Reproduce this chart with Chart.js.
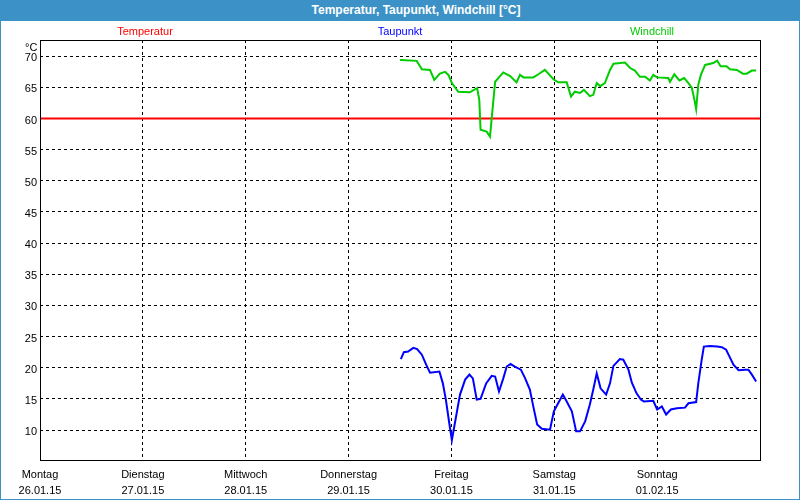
<!DOCTYPE html>
<html>
<head>
<meta charset="utf-8">
<script src="https://cdn.jsdelivr.net/npm/chart.js@4"></script>
<style>
  html, body { margin: 0; padding: 0; background: #fff; }
  #wrap { position: relative; width: 800px; height: 500px; overflow: hidden; background: #fff; font-family: 'Liberation Sans', Arial, sans-serif; }
  #frame { position: absolute; left: 0; top: 0; width: 798px; height: 499px; border: 1px solid #3c92c6; border-top: none; box-sizing: content-box; pointer-events: none; }
  #title { position: absolute; left: 0; top: 0; width: 800px; height: 21px; background: #3c92c6; }
  #title span { position: absolute; left: 416px; top: 0; transform: translateX(-50%); color: #fff; font-weight: bold; font-size: 12px; line-height: 21px; white-space: nowrap; }
  .leg { position: absolute; top: 24px; font-size: 11px; line-height: 14px; transform: translateX(-50%); white-space: nowrap; }
  #unit { position: absolute; left: 25px; top: 40px; font-size: 11px; line-height: 14px; color: #000; }
  canvas { position: absolute; left: 0; top: 0; }
</style>
</head>
<body>
<div id="wrap">
  <canvas id="c" width="800" height="500"></canvas>
  <div id="title"><span>Temperatur, Taupunkt, Windchill [°C]</span></div>
  <div class="leg" style="left:145px;color:#ff0000">Temperatur</div>
  <div class="leg" style="left:400px;color:#0000ff">Taupunkt</div>
  <div class="leg" style="left:652px;color:#00cc00">Windchill</div>
  <div id="unit">°C</div>
  <div id="frame"></div>
</div>
<script>
// Day labels (tick positions in hours from Monday 26.01.15 00:00)
const dayNames = ['Montag', 'Dienstag', 'Mittwoch', 'Donnerstag', 'Freitag', 'Samstag', 'Sonntag'];
const dayDates = ['26.01.15', '27.01.15', '28.01.15', '29.01.15', '30.01.15', '31.01.15', '01.02.15'];
const dayHours = [0, 24, 48, 72, 96, 120, 144];
const yTicks = [10, 15, 20, 25, 30, 35, 40, 45, 50, 55, 60, 65, 70];

// Temperatur (constant line)
const tempHours = [0, 168];
const tempValues = [60, 60];

// Taupunkt
const dewHours = [84.2, 84.9, 85.9, 87.1, 88.0, 89.1, 90.1, 91.0, 93.2, 94.0, 94.7, 95.5, 96.1, 96.8, 98.0, 99.2, 100.2, 101.0, 101.9, 102.8, 104.1, 105.4, 106.2, 107.1, 108.1, 108.9, 109.8, 110.8, 112.2, 113.2, 114.3, 115.1, 116.0, 117.1, 119.0, 119.9, 120.9, 122.0, 122.9, 124.1, 125.1, 126.0, 127.2, 128.3, 129.1, 129.9, 130.8, 132.1, 133.0, 133.8, 135.3, 136.1, 137.3, 138.1, 139.2, 140.2, 140.9, 143.1, 144.0, 145.1, 146.1, 147.2, 148.6, 150.5, 151.3, 153.1, 153.6, 154.4, 154.9, 156.3, 158.0, 159.1, 160.1, 160.8, 161.8, 163.0, 164.5, 165.3, 166.1, 167.1];
const dewValues = [21.4, 22.5, 22.6, 23.2, 23.0, 22.1, 20.5, 19.2, 19.4, 17.5, 14.9, 11.1, 8.4, 11.1, 15.7, 18.1, 18.9, 18.3, 14.9, 15.0, 17.5, 18.7, 18.6, 16.2, 18.3, 20.2, 20.6, 20.2, 19.7, 18.3, 16.5, 13.8, 10.9, 10.2, 10.05, 13.0, 14.3, 15.7, 14.6, 13.0, 9.8, 9.8, 11.4, 14.1, 16.5, 19.1, 16.7, 15.7, 17.5, 20.3, 21.4, 21.3, 19.7, 17.6, 15.9, 14.9, 14.6, 14.7, 13.3, 13.8, 12.5, 13.3, 13.5, 13.6, 14.3, 14.5, 17.5, 21.3, 23.4, 23.5, 23.4, 23.3, 22.9, 21.9, 20.5, 19.6, 19.7, 19.7, 18.9, 17.8];

// Windchill
const chillHours = [84.0, 87.9, 89.1, 91.0, 92.0, 93.3, 94.5, 95.3, 96.1, 97.6, 100.3, 102.0, 102.5, 102.8, 104.2, 105.0, 105.4, 106.2, 108.1, 109.7, 111.2, 112.0, 112.8, 115.1, 116.3, 117.8, 119.8, 120.9, 122.9, 123.9, 124.8, 126.0, 126.9, 128.3, 129.1, 129.9, 130.7, 131.8, 133.0, 133.8, 136.5, 137.7, 138.8, 140.0, 141.2, 142.3, 143.1, 144.0, 146.6, 147.0, 148.0, 149.2, 150.3, 151.3, 152.1, 152.7, 153.1, 153.6, 154.2, 155.2, 157.1, 158.0, 158.8, 160.2, 161.0, 162.6, 164.0, 164.9, 166.1, 167.1];
const chillValues = [69.4, 69.25, 67.9, 67.8, 66.2, 67.2, 67.5, 67.0, 65.7, 64.3, 64.2, 64.9, 63.0, 58.2, 57.9, 57.1, 60.05, 65.9, 67.4, 66.8, 65.8, 67.0, 66.6, 66.6, 67.1, 67.8, 66.3, 65.8, 65.8, 63.5, 64.3, 64.1, 64.6, 63.6, 63.8, 65.7, 65.2, 65.7, 67.8, 68.8, 68.97, 68.1, 67.7, 66.7, 66.7, 66.1, 67.0, 66.6, 66.5, 65.9, 67.1, 66.1, 66.5, 65.7, 64.9, 63.0, 61.5, 65.4, 67.0, 68.6, 68.9, 69.3, 68.4, 68.4, 67.9, 67.8, 67.2, 67.2, 67.7, 67.7];

const toPts = (xs, ys) => xs.map((x, i) => ({ x: x, y: ys[i] }));

const framePlugin = {
  id: 'framePlugin',
  afterDraw(chart) {
    const a = chart.chartArea, ctx = chart.ctx;
    ctx.save();
    ctx.strokeStyle = '#000';
    ctx.lineWidth = 1;
    ctx.strokeRect(Math.round(a.left) + 0.5, Math.round(a.top) + 0.5, Math.round(a.right - a.left), Math.round(a.bottom - a.top));
    ctx.restore();
  }
};

const font = { family: "'Liberation Sans', Arial, sans-serif", size: 11 };

new Chart(document.getElementById('c'), {
  type: 'line',
  data: {
    datasets: [
      { label: 'Temperatur', data: toPts(tempHours, tempValues), borderColor: '#ff0000', borderWidth: 2, pointRadius: 0, tension: 0, order: 3 },
      { label: 'Taupunkt', data: toPts(dewHours, dewValues), borderColor: '#0000ff', borderWidth: 2, pointRadius: 0, tension: 0, order: 2 },
      { label: 'Windchill', data: toPts(chillHours, chillValues), borderColor: '#00cc00', borderWidth: 2, pointRadius: 0, tension: 0, order: 1 }
    ]
  },
  options: {
    responsive: false,
    animation: false,
    events: [],
    layout: { padding: { left: 0, top: 40, right: 40, bottom: 0 } },
    plugins: { legend: { display: false }, title: { display: false }, tooltip: { enabled: false } },
    scales: {
      x: {
        type: 'linear', min: 0, max: 168,
        afterBuildTicks: s => { s.ticks = dayHours.map(v => ({ value: v })); },
        afterFit: s => { s.height = 40; },
        ticks: {
          autoSkip: false, maxRotation: 0, minRotation: 0, padding: 7, color: '#000',
          font: Object.assign({ lineHeight: 1.45 }, font),
          callback: (v) => { const i = dayHours.indexOf(v); return i >= 0 ? [dayNames[i], dayDates[i]] : ''; }
        },
        grid: { color: '#000', lineWidth: 1, drawTicks: false },
        border: { display: false, dash: [3, 3] }
      },
      y: {
        type: 'linear', min: 5.2, max: 72.6,
        afterBuildTicks: s => { s.ticks = yTicks.map(v => ({ value: v })); },
        afterFit: s => { s.width = 40; },
        ticks: { padding: 3, labelOffset: 2, color: '#000', font: font },
        grid: { color: '#000', lineWidth: 1, drawTicks: false },
        border: { display: false, dash: [3, 3] }
      }
    }
  },
  plugins: [framePlugin]
});
</script>
</body>
</html>
